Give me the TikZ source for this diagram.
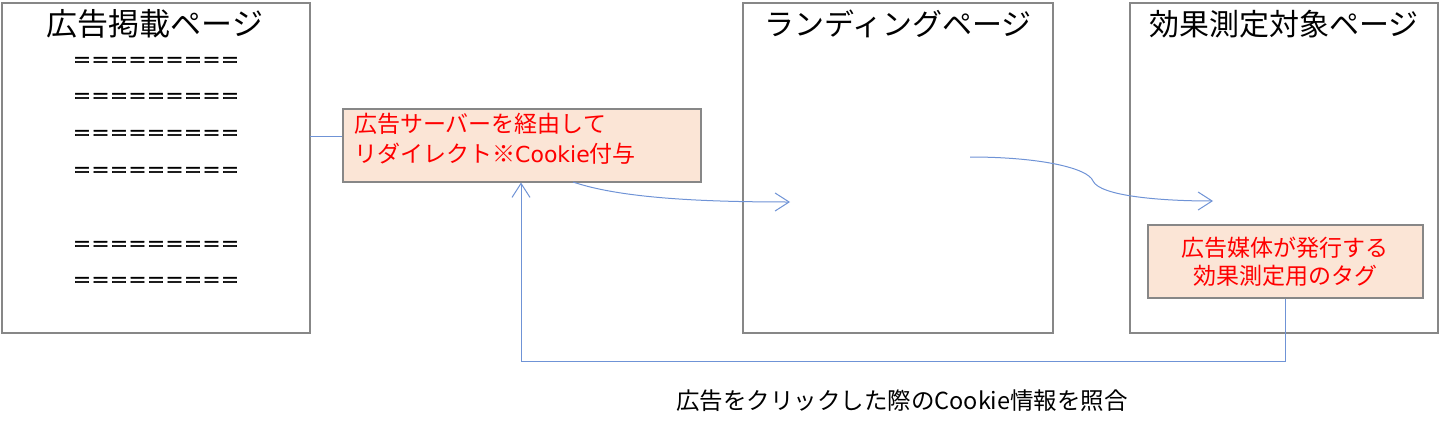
\documentclass[tikz,border=0pt]{standalone}
\usepackage{fontspec}
\setmainfont{Noto Sans CJK JP}
\newfontfamily\latinwide{DejaVu Sans}
\usetikzlibrary{arrows.meta}
\definecolor{boxgray}{HTML}{878787}
\definecolor{linkblue}{HTML}{6F93D6}
\definecolor{peach}{HTML}{FBE5D6}
\definecolor{txtred}{HTML}{FF0000}
\tikzset{
  page/.style={draw=boxgray, line width=2pt, fill=white, inner sep=0pt},
  notebox/.style={draw=boxgray, line width=1.5pt, fill=peach, text=txtred, inner sep=0pt, font=\fontsize{23}{28}\selectfont},
  link/.style={draw=linkblue, line width=1pt},
  tip/.style={-{Straight Barb[length=14pt,width=18pt,line width=1pt]}},
  title/.style={font=\fontsize{30}{32}\selectfont, anchor=center},
  eqrow/.style={font=\fontsize{18.5}{20}\addfontfeature{FakeBold=2.5}\selectfont, anchor=center},
}
\begin{document}
\begin{tikzpicture}[x=1pt,y=-1pt]
\useasboundingbox (0,0) rectangle (1440,439);
% pages
\draw[page] (2,3) rectangle (310,333);
\draw[page] (743,3) rectangle (1053,333);
\draw[page] (1130,3) rectangle (1438,333);
\node[title, font=\fontsize{31}{32}\selectfont] (t1) at (155,24) {広告掲載ページ};
\node[title] (t2) at (898,24) {ランディングページ};
\node[title] (t3) at (1284,24) {効果測定対象ページ};
% equals rows
\foreach \yy/\nm in {62/e1,98/e2,135/e3,172/e4,246/e5,282/e6}{
  \node[eqrow] (\nm) at (156,\yy) {＝＝＝＝＝＝＝＝＝};
}
% note boxes
\node[notebox, minimum width=358pt, minimum height=73pt, anchor=north west] (n1) at (342,108) {};
\node[anchor=north west, inner sep=0pt, text=txtred, align=left, font=\fontsize{23}{30}\selectfont] (n1t) at (354,113) {広告サーバーを経由して\\リダイレクト※{\latinwide\fontsize{22}{30}\selectfont Cookie}付与};
\node[notebox, minimum width=275pt, minimum height=73pt, anchor=north west, align=center] (n2) at (1147,224) {広告媒体が発行する\\効果測定用のタグ};
% connectors
\coordinate (c1a) at (310,136);
\draw[link] (c1a) -- (n1.west |- c1a);
\coordinate (a1s) at (573,182);
\coordinate (a1e) at (790,202);
\draw[link, tip] (a1s) .. controls (620,198) and (700,202) .. (a1e);
\coordinate (a2s) at (970,157);
\coordinate (a2m) at (1093,181);
\coordinate (a2e) at (1213,201);
\draw[link, tip] (a2s) .. controls (1040,157) and (1088,168) .. (a2m) .. controls (1100,196) and (1160,201) .. (a2e);
\coordinate (lp1) at (1285,361);
\coordinate (lp2) at (521,361);
\draw[link, tip] (n2.south -| lp1) -- (lp1) -- (lp2) -- (n1.south -| lp2);
\node[font=\fontsize{23.5}{24}\selectfont] (lab) at (902,401) {広告をクリックした際のCookie情報を照合};
\end{tikzpicture}
\end{document}
